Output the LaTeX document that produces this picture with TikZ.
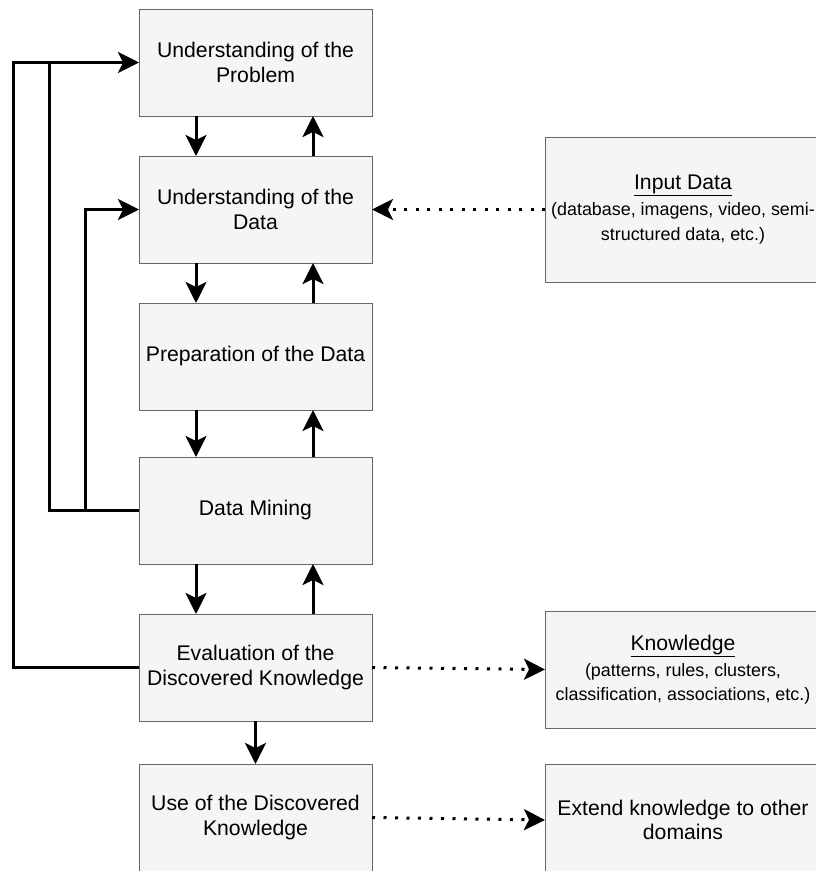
\documentclass[tikz,border=0pt]{standalone}
\usepackage{fontspec}
\setmainfont{Liberation Sans}
\usetikzlibrary{arrows.meta}
\definecolor{boxfill}{HTML}{F5F5F5}
\definecolor{boxline}{HTML}{666666}
\newcommand\detailsize{\fontsize{17.9}{20.5}\selectfont}
\begin{document}
\begin{tikzpicture}[x=1pt,y=-1pt,
  stepbox/.style={draw=boxline, fill=boxfill, line width=1pt, inner sep=0pt, outer sep=0pt,
    minimum width=233pt, minimum height=107pt, anchor=north west, align=center,
    font=\fontsize{21.2}{24.3}\selectfont},
  sidebox/.style={stepbox, minimum width=276pt},
  flow/.style={line width=3pt, -{Stealth[length=21pt, width=21pt, inset=5pt]}},
  link/.style={line width=3pt},
  dots/.style={line width=3pt, dash pattern=on 3pt off 8.5pt,
    -{Stealth[length=21pt, width=21pt, inset=5pt]}}]
\useasboundingbox (0,0) rectangle (816,871);
\clip (0,0) rectangle (816,871);

% main process column
\node[stepbox] (p1) at (139,9)   {Understanding of the\\Problem};
\node[stepbox] (p2) at (139,156) {Understanding of the\\Data};
\node[stepbox] (p3) at (139,303) {Preparation of the Data};
\node[stepbox] (p4) at (139,457) {Data Mining};
\node[stepbox] (p5) at (139,614) {Evaluation of the\\Discovered Knowledge};
\node[stepbox] (p6) at (139,764) {Use of the Discovered\\Knowledge};

% side boxes
\node[sidebox, minimum height=145pt] (in) at (545,137)
  {\underline{Input Data}\\[2pt]\detailsize (database, imagens, video, semi-\\\detailsize structured data, etc.)};
\node[sidebox, minimum height=117pt] (kn) at (545,611)
  {\underline{Knowledge}\\[2pt]\detailsize (patterns, rules, clusters,\\\detailsize classification, associations, etc.)};
\node[sidebox, minimum height=112pt] (ext) at (545,764)
  {Extend knowledge to other\\domains};

% columns of the forward and backward arrows
\coordinate (dx) at (196,0);
\coordinate (ux) at (313,0);

\foreach \a/\b in {p1/p2, p2/p3, p3/p4, p4/p5}{
  \draw[flow] (\a.south -| dx) -- (\b.north -| dx);
  \draw[flow] (\b.north -| ux) -- (\a.south -| ux);
}
\draw[flow] (p5.south) -- (p6.north);

% feedback loops on the left
\coordinate (l1) at (13,62.5);
\coordinate (l2) at (49,62.5);
\coordinate (l3) at (85,209.5);
\draw[link] (p4.west) -| (l2);
\draw[flow] (p5.west) -| (l1) -- (p1.west);
\draw[flow] (p4.west) -| (l3) -- (p2.west);

% dotted data and knowledge flows
\draw[dots] (in.west) -- (p2.east);
\draw[dots] (p5.east) -- (kn.west);
\draw[dots] (p6.east) -- (ext.west);
\end{tikzpicture}
\end{document}
